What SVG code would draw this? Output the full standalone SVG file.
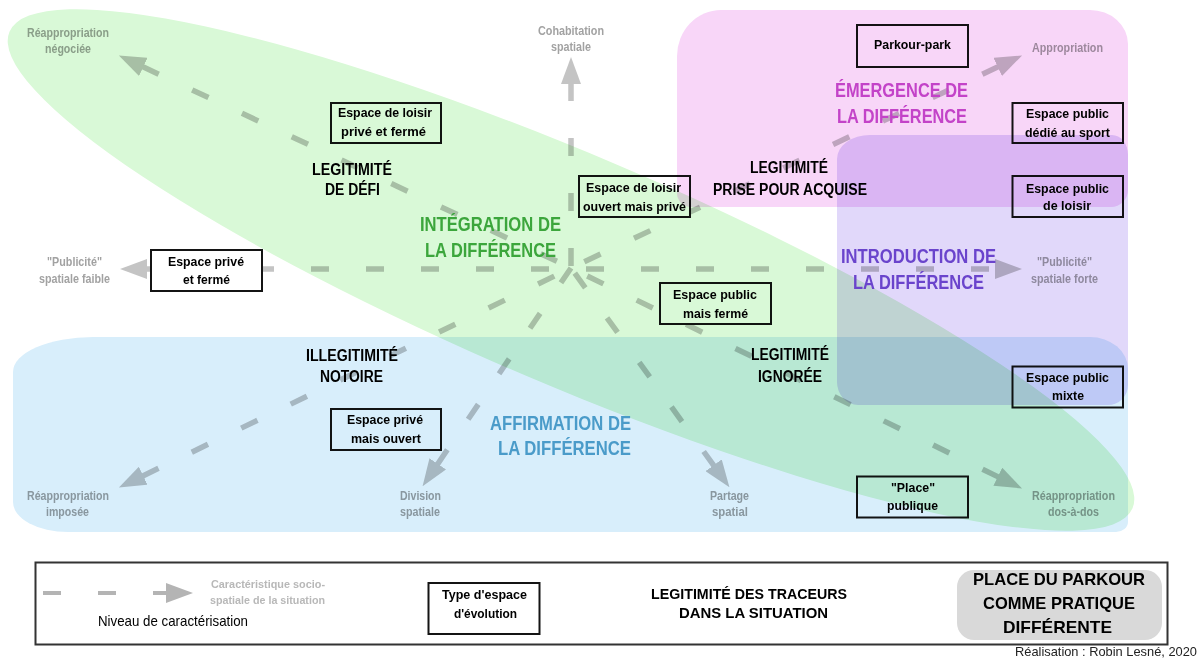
<svg xmlns="http://www.w3.org/2000/svg" width="1203" height="661" viewBox="0 0 1203 661">
<style>
text{font-family:"Liberation Sans",Arial,sans-serif;}
.ln{fill:none;stroke:#c4c4c4;stroke-width:5.5;stroke-dasharray:18 37;}
.bx{fill:#fff;stroke:#141414;stroke-width:2;}
.bt{font-weight:bold;font-size:13.5px;fill:#000;}
.gl{font-weight:bold;font-size:12.5px;fill:#a2a2a2;}
.lg{font-weight:bold;font-size:16px;fill:#000;}
.tt{font-weight:bold;font-size:20px;}
.rg{mix-blend-mode:multiply;}
</style>
<defs>
<marker id="ah" viewBox="0 0 27 20" markerWidth="27" markerHeight="20" refX="1" refY="10" markerUnits="userSpaceOnUse" orient="auto-start-reverse"><path d="M0,0 L27,10 L0,20 Z" fill="#c4c4c4"/></marker>
<marker id="ahl" viewBox="0 0 27 20" markerWidth="27" markerHeight="20" refX="1" refY="10" markerUnits="userSpaceOnUse" orient="auto"><path d="M0,0 L27,10 L0,20 Z" fill="#b4b4b4"/></marker>
</defs>
<rect width="1203" height="661" fill="#fff"/>

<g id="connectors">
<path class="ln" d="M571,83 L571,268" marker-start="url(#ah)"/>
<path class="ln" d="M146,269 L996,269" marker-start="url(#ah)" marker-end="url(#ah)"/>
<path class="ln" d="M142.4,66.5 L571,268" marker-start="url(#ah)"/>
<path class="ln" d="M998.6,66.5 L571,268" marker-start="url(#ah)"/>
<path class="ln" d="M142.3,476.2 L571,268" marker-start="url(#ah)"/>
<path class="ln" d="M998.7,477.1 L571,268" marker-start="url(#ah)"/>
<path class="ln" d="M437.2,464.7 L571,268" marker-start="url(#ah)"/>
<path class="ln" d="M714.2,466.1 L571,268" marker-start="url(#ah)"/>
</g>

<g id="end-labels">
<g id="lbl-negociee"><text class="gl" x="27" y="37" textLength="82" lengthAdjust="spacingAndGlyphs">Réappropriation</text><text class="gl" x="45" y="53" textLength="46" lengthAdjust="spacingAndGlyphs">négociée</text></g>
<g id="lbl-cohabitation"><text class="gl" x="538" y="35" textLength="66" lengthAdjust="spacingAndGlyphs">Cohabitation</text><text class="gl" x="551" y="51" textLength="40" lengthAdjust="spacingAndGlyphs">spatiale</text></g>
<g id="lbl-appropriation"><text class="gl" x="1032" y="52" textLength="71" lengthAdjust="spacingAndGlyphs">Appropriation</text></g>
<g id="lbl-faible"><text class="gl" x="47" y="266" textLength="55" lengthAdjust="spacingAndGlyphs">"Publicité"</text><text class="gl" x="39" y="283" textLength="71" lengthAdjust="spacingAndGlyphs">spatiale faible</text></g>
<g id="lbl-forte"><text class="gl" x="1037" y="266" textLength="55" lengthAdjust="spacingAndGlyphs">"Publicité"</text><text class="gl" x="1031" y="283" textLength="67" lengthAdjust="spacingAndGlyphs">spatiale forte</text></g>
<g id="lbl-imposee"><text class="gl" x="27" y="500" textLength="82" lengthAdjust="spacingAndGlyphs">Réappropriation</text><text class="gl" x="46" y="516" textLength="43" lengthAdjust="spacingAndGlyphs">imposée</text></g>
<g id="lbl-division"><text class="gl" x="400" y="500" textLength="41" lengthAdjust="spacingAndGlyphs">Division</text><text class="gl" x="400" y="516" textLength="40" lengthAdjust="spacingAndGlyphs">spatiale</text></g>
<g id="lbl-partage"><text class="gl" x="710" y="500" textLength="39" lengthAdjust="spacingAndGlyphs">Partage</text><text class="gl" x="712" y="516" textLength="36" lengthAdjust="spacingAndGlyphs">spatial</text></g>
<g id="lbl-dosados"><text class="gl" x="1032" y="500" textLength="83" lengthAdjust="spacingAndGlyphs">Réappropriation</text><text class="gl" x="1048" y="516" textLength="51" lengthAdjust="spacingAndGlyphs">dos-à-dos</text></g>
</g>

<g id="n-loisir-prive-ferme"><rect class="bx" x="331" y="103" width="110" height="40"/><text class="bt" x="338" y="117" textLength="94" lengthAdjust="spacingAndGlyphs">Espace de loisir</text><text class="bt" x="341" y="136" textLength="85" lengthAdjust="spacingAndGlyphs">privé et fermé</text></g>
<g id="n-loisir-ouvert"><rect class="bx" x="579" y="176" width="111" height="41"/><text class="bt" x="586" y="192" textLength="95" lengthAdjust="spacingAndGlyphs">Espace de loisir</text><text class="bt" x="583" y="211" textLength="103" lengthAdjust="spacingAndGlyphs">ouvert mais privé</text></g>
<g id="n-parkour-park"><rect class="bx" x="857" y="25" width="111" height="42"/><text class="bt" x="874" y="49" textLength="77" lengthAdjust="spacingAndGlyphs">Parkour-park</text></g>
<g id="n-public-sport"><rect class="bx" x="1012.5" y="103" width="110.5" height="40"/><text class="bt" x="1026" y="118" textLength="83" lengthAdjust="spacingAndGlyphs">Espace public</text><text class="bt" x="1025" y="137" textLength="85" lengthAdjust="spacingAndGlyphs">dédié au sport</text></g>
<g id="n-public-loisir"><rect class="bx" x="1012.5" y="176" width="110.5" height="41"/><text class="bt" x="1026" y="193" textLength="83" lengthAdjust="spacingAndGlyphs">Espace public</text><text class="bt" x="1043" y="210" textLength="48" lengthAdjust="spacingAndGlyphs">de loisir</text></g>
<g id="n-prive-ferme"><rect class="bx" x="151" y="250" width="111" height="41"/><text class="bt" x="168" y="266" textLength="76" lengthAdjust="spacingAndGlyphs">Espace privé</text><text class="bt" x="183" y="284" textLength="47" lengthAdjust="spacingAndGlyphs">et fermé</text></g>
<g id="n-public-ferme"><rect class="bx" x="660" y="283" width="111" height="41"/><text class="bt" x="673" y="299" textLength="84" lengthAdjust="spacingAndGlyphs">Espace public</text><text class="bt" x="683" y="318" textLength="65" lengthAdjust="spacingAndGlyphs">mais fermé</text></g>
<g id="n-prive-ouvert"><rect class="bx" x="331" y="409" width="110" height="41"/><text class="bt" x="347" y="424" textLength="76" lengthAdjust="spacingAndGlyphs">Espace privé</text><text class="bt" x="351" y="443" textLength="70" lengthAdjust="spacingAndGlyphs">mais ouvert</text></g>
<g id="n-public-mixte"><rect class="bx" x="1012.5" y="366.5" width="110.5" height="41"/><text class="bt" x="1026" y="382" textLength="83" lengthAdjust="spacingAndGlyphs">Espace public</text><text class="bt" x="1052" y="400" textLength="32" lengthAdjust="spacingAndGlyphs">mixte</text></g>
<g id="n-place-publique"><rect class="bx" x="857" y="476.5" width="111" height="41"/><text class="bt" x="891" y="492" textLength="44" lengthAdjust="spacingAndGlyphs">"Place"</text><text class="bt" x="887" y="510" textLength="51" lengthAdjust="spacingAndGlyphs">publique</text></g>

<g id="r-integration">
<ellipse class="rg" cx="571" cy="270" rx="610" ry="115" transform="rotate(23 571 270)" fill="#d9f9d7"/>
<text class="tt" fill="#3ca63c" x="420" y="231" textLength="141" lengthAdjust="spacingAndGlyphs">INTÉGRATION DE</text>
<text class="tt" fill="#3ca63c" x="425" y="257" textLength="131" lengthAdjust="spacingAndGlyphs">LA DIFFÉRENCE</text>
</g>
<g id="r-affirmation">
<path class="rg" fill="#d8eefb" d="M93,337 H1090 A38,32 0 0 1 1128,369 V522 A12,10 0 0 1 1116,532 H68 A55,30 0 0 1 13,502 V372 A80,35 0 0 1 93,337 Z"/>
<text class="tt" fill="#4a9bc9" x="490" y="430" textLength="141" lengthAdjust="spacingAndGlyphs">AFFIRMATION DE</text>
<text class="tt" fill="#4a9bc9" x="498" y="455" textLength="133" lengthAdjust="spacingAndGlyphs">LA DIFFÉRENCE</text>
</g>
<g id="r-emergence">
<path class="rg" fill="#f8d6f8" d="M721,10 H1090 A38,34 0 0 1 1128,44 V190 A17,17 0 0 1 1111,207 H691 A14,14 0 0 1 677,193 V56 A44,46 0 0 1 721,10 Z"/>
<text class="tt" fill="#c343c8" x="835" y="97" textLength="133" lengthAdjust="spacingAndGlyphs">ÉMERGENCE DE</text>
<text class="tt" fill="#c343c8" x="837" y="123" textLength="130" lengthAdjust="spacingAndGlyphs">LA DIFFÉRENCE</text>
</g>
<g id="r-introduction">
<path class="rg" fill="#e1d8fa" d="M870,135 H1112 A16,20 0 0 1 1128,155 V385 A20,20 0 0 1 1108,405 H858 A21,23 0 0 1 837,382 V159 A33,24 0 0 1 870,135 Z"/>
<text class="tt" fill="#6a44cc" x="841" y="263" textLength="155" lengthAdjust="spacingAndGlyphs">INTRODUCTION DE</text>
<text class="tt" fill="#6a44cc" x="853" y="289" textLength="131" lengthAdjust="spacingAndGlyphs">LA DIFFÉRENCE</text>
</g>

<g id="leg-defi"><text class="lg" x="312" y="175" textLength="80" lengthAdjust="spacingAndGlyphs">LEGITIMITÉ</text><text class="lg" x="325" y="195" textLength="55" lengthAdjust="spacingAndGlyphs">DE DÉFI</text></g>
<g id="leg-acquise"><text class="lg" x="750" y="173" textLength="78" lengthAdjust="spacingAndGlyphs">LEGITIMITÉ</text><text class="lg" x="713" y="195" textLength="154" lengthAdjust="spacingAndGlyphs">PRISE POUR ACQUISE</text></g>
<g id="leg-notoire"><text class="lg" x="306" y="361" textLength="92" lengthAdjust="spacingAndGlyphs">ILLEGITIMITÉ</text><text class="lg" x="320" y="382" textLength="63" lengthAdjust="spacingAndGlyphs">NOTOIRE</text></g>
<g id="leg-ignoree"><text class="lg" x="751" y="360" textLength="78" lengthAdjust="spacingAndGlyphs">LEGITIMITÉ</text><text class="lg" x="758" y="382" textLength="64" lengthAdjust="spacingAndGlyphs">IGNORÉE</text></g>

<g id="legend">
<rect x="35.5" y="562.5" width="1132" height="82" fill="none" stroke="#333" stroke-width="2"/>
<path d="M43,593 L167,593" fill="none" stroke="#b4b4b4" stroke-width="4" stroke-dasharray="18 37" marker-end="url(#ahl)"/>
<text x="211" y="588" font-weight="bold" font-size="11px" fill="#b8b8b8" textLength="114" lengthAdjust="spacingAndGlyphs">Caractéristique socio-</text>
<text x="210" y="604" font-weight="bold" font-size="11px" fill="#b8b8b8" textLength="115" lengthAdjust="spacingAndGlyphs">spatiale de la situation</text>
<text x="98" y="626" font-size="15px" fill="#000" textLength="150" lengthAdjust="spacingAndGlyphs">Niveau de caractérisation</text>
<g id="leg-type"><rect class="bx" x="428.5" y="583" width="111" height="51"/><text class="bt" x="442" y="599" textLength="85" lengthAdjust="spacingAndGlyphs">Type d'espace</text><text class="bt" x="454" y="618" textLength="63" lengthAdjust="spacingAndGlyphs">d'évolution</text></g>
<text x="651" y="599" font-weight="bold" font-size="15px" fill="#000" textLength="196" lengthAdjust="spacingAndGlyphs">LEGITIMITÉ DES TRACEURS</text>
<text x="679" y="618" font-weight="bold" font-size="15px" fill="#000" textLength="149" lengthAdjust="spacingAndGlyphs">DANS LA SITUATION</text>
<g id="leg-place"><rect x="957" y="570" width="205" height="70" rx="17" ry="17" fill="#d9d9d9"/>
<text x="973" y="585" font-weight="bold" font-size="17px" fill="#000" textLength="172" lengthAdjust="spacingAndGlyphs">PLACE DU PARKOUR</text>
<text x="983" y="609" font-weight="bold" font-size="17px" fill="#000" textLength="152" lengthAdjust="spacingAndGlyphs">COMME PRATIQUE</text>
<text x="1003" y="633" font-weight="bold" font-size="17px" fill="#000" textLength="109" lengthAdjust="spacingAndGlyphs">DIFFÉRENTE</text></g>
</g>
<text id="credit" x="1015" y="656" font-size="13px" fill="#222" textLength="182" lengthAdjust="spacingAndGlyphs">Réalisation : Robin Lesné, 2020</text>
</svg>
